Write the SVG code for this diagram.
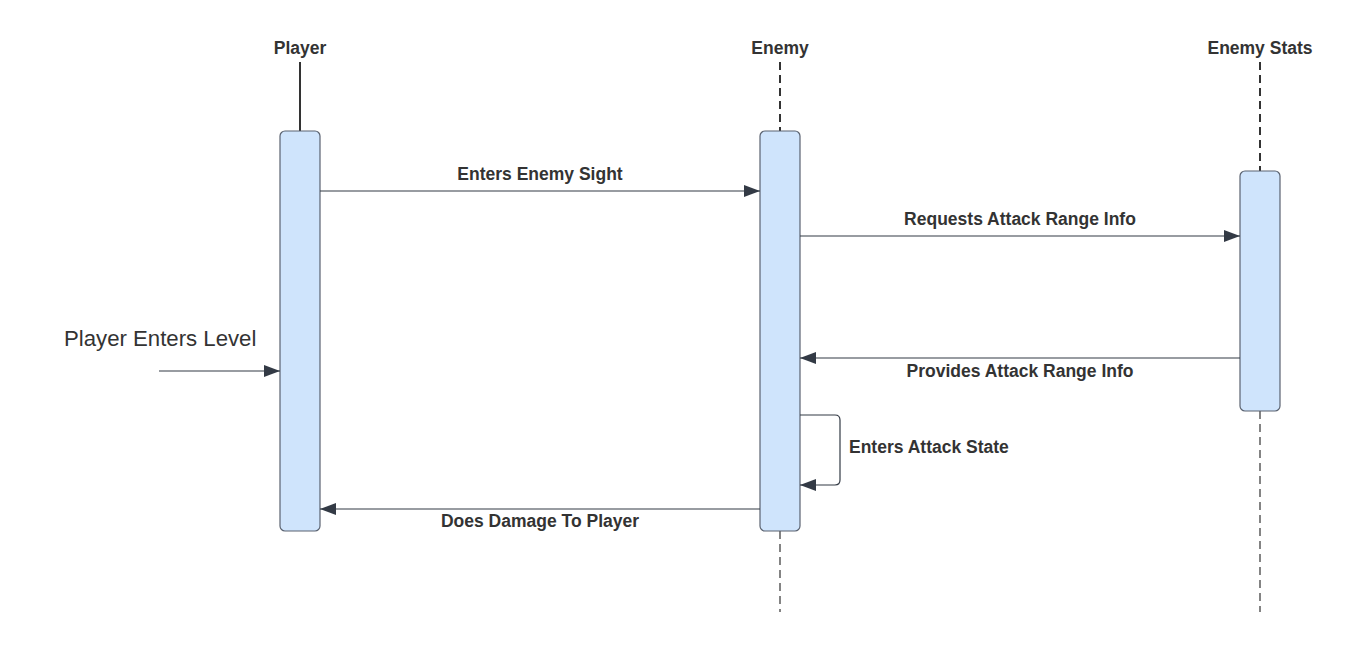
<svg xmlns="http://www.w3.org/2000/svg" width="1353" height="651" viewBox="0 0 1353 651">
<style>
.hdr{font-family:"Liberation Sans",Arial,sans-serif;font-weight:bold;font-size:17.5px;fill:#333333;text-anchor:middle}
.lbl{font-family:"Liberation Sans",Arial,sans-serif;font-weight:bold;font-size:17.5px;fill:#333333;text-anchor:middle}
.act{fill:#cfe4fc;stroke:#5a6270;stroke-width:1.2}
.msg{stroke:#333a45;stroke-width:1.2;fill:none}
.life{stroke:#333333;fill:none}
</style>
<defs>
<marker id="ah" viewBox="0 0 16 12" refX="16" refY="6" markerWidth="16" markerHeight="12" markerUnits="userSpaceOnUse" orient="auto">
<path d="M0,0 L16,6 L0,12 Z" fill="#333a45"/>
</marker>
</defs>
<rect width="1353" height="651" fill="#ffffff"/>
<g id="lifelines">
<line class="life" x1="300" y1="62" x2="300" y2="131" stroke-width="2"/>
<line class="life" x1="780" y1="62" x2="780" y2="131" stroke-width="2" stroke-dasharray="8,5"/>
<line class="life" x1="780" y1="531" x2="780" y2="612" stroke-width="1.2" stroke-dasharray="8,5"/>
<line class="life" x1="1260" y1="62" x2="1260" y2="171" stroke-width="2" stroke-dasharray="8,5"/>
<line class="life" x1="1260" y1="411" x2="1260" y2="612" stroke-width="1.2" stroke-dasharray="8,5"/>
</g>
<g id="player">
<text class="hdr" x="300" y="54">Player</text>
<rect class="act" x="280" y="131" width="40" height="400" rx="5"/>
</g>
<g id="enemy">
<text class="hdr" x="780" y="54">Enemy</text>
<rect class="act" x="760" y="131" width="40" height="400" rx="5"/>
</g>
<g id="enemy-stats">
<text class="hdr" x="1260" y="54">Enemy Stats</text>
<rect class="act" x="1240" y="171" width="40" height="240" rx="5"/>
</g>
<g id="start">
<text x="64" y="346" font-family="Liberation Sans,Arial,sans-serif" font-size="22.2" fill="#333333">Player Enters Level</text>
</g>
<g id="connectors">
<line class="msg" x1="159" y1="371" x2="280" y2="371" marker-end="url(#ah)"/>
<line class="msg" x1="320" y1="191" x2="760" y2="191" marker-end="url(#ah)"/>
<text class="lbl" x="540" y="180">Enters Enemy Sight</text>
<line class="msg" x1="800" y1="236" x2="1240" y2="236" marker-end="url(#ah)"/>
<text class="lbl" x="1020" y="225">Requests Attack Range Info</text>
<line class="msg" x1="1240" y1="358" x2="800" y2="358" marker-end="url(#ah)"/>
<text class="lbl" x="1020" y="377">Provides Attack Range Info</text>
<path class="msg" d="M800,415 H835 Q840,415 840,420 V480 Q840,485 835,485 H800" marker-end="url(#ah)"/>
<text class="lbl" x="849" y="453" style="text-anchor:start">Enters Attack State</text>
<line class="msg" x1="760" y1="509" x2="320" y2="509" marker-end="url(#ah)"/>
<text class="lbl" x="540" y="527">Does Damage To Player</text>
</g>
</svg>
